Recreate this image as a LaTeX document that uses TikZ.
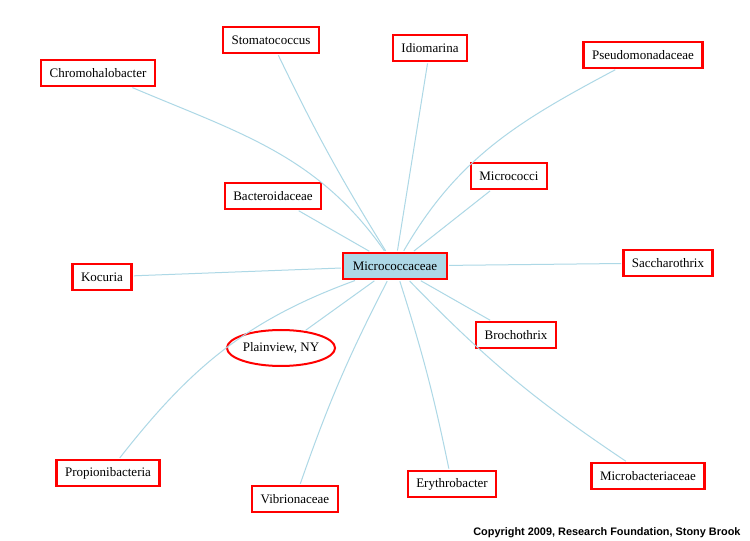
\documentclass[tikz,border=0pt]{standalone}
\usepackage{fontspec}
\setmainfont{Liberation Serif}
\setsansfont{Liberation Sans}
\usetikzlibrary{shapes.geometric}
\definecolor{lightblue}{HTML}{ADD8E6}
\definecolor{boxred}{HTML}{FF0000}

\begin{document}
\begin{tikzpicture}[x=1pt,y=1pt,
    taxon/.style={draw=boxred,line width=2.3pt,fill=white,inner xsep=8.5pt,
      minimum height=26pt,font=\fontsize{13}{15}\selectfont},
    hub/.style={taxon,fill=lightblue,inner xsep=9.5pt},
    place/.style={ellipse,draw=boxred,line width=2pt,fill=white,inner sep=0pt,
      minimum width=106pt,minimum height=36pt,font=\fontsize{13}{15}\selectfont},
    link/.style={draw=lightblue,line width=1pt,shorten <=1.2pt,shorten >=1.2pt}]
  \path[use as bounding box,fill=white] (0,0) rectangle (750,541);
  \node[hub] (micrococcaceae) at (395,275) {Micrococcaceae};
  \path (271,501) node[taxon] (stomatococcus) {Stomatococcus}
        (98,468) node[taxon] (chromohalobacter) {Chromohalobacter}
        (430,493) node[taxon] (idiomarina) {Idiomarina}
        (643,486) node[taxon] (pseudomonadaceae) {Pseudomonadaceae}
        (509,365) node[taxon] (micrococci) {Micrococci}
        (273,345) node[taxon] (bacteroidaceae) {Bacteroidaceae}
        (102,264) node[taxon] (kocuria) {Kocuria}
        (668,278) node[taxon] (saccharothrix) {Saccharothrix}
        (516,206) node[taxon] (brochothrix) {Brochothrix}
        (108,68) node[taxon] (propionibacteria) {Propionibacteria}
        (295,42) node[taxon] (vibrionaceae) {Vibrionaceae}
        (452,57) node[taxon] (erythrobacter) {Erythrobacter}
        (648,65) node[taxon] (microbacteriaceae) {Microbacteriaceae};
  \node[place] (plainview) at (281,193) {Plainview, NY};
  % spokes to the hub
  \draw[link] (chromohalobacter) to[out=-23,in=125] (micrococcaceae);
  \draw[link] (stomatococcus) to[bend right=3] (micrococcaceae);
  \draw[link] (pseudomonadaceae) to[out=208,in=60] (micrococcaceae);
  \draw[link] (propionibacteria) to[out=52,in=-160] (micrococcaceae);
  \draw[link] (vibrionaceae) to[bend left=4] (micrococcaceae);
  \draw[link] (erythrobacter) to[bend right=3] (micrococcaceae);
  \draw[link] (microbacteriaceae) to[bend left=6] (micrococcaceae);
  \foreach \n in {idiomarina,micrococci,bacteroidaceae,kocuria,saccharothrix,
                  brochothrix,plainview}
    \draw[link] (\n) -- (micrococcaceae);
  \node[anchor=base east,font=\sffamily\bfseries\fontsize{10.9}{12}\selectfont]
    (copyright) at (744,5.5) {Copyright 2009, Research Foundation, Stony Brook};
\end{tikzpicture}
\end{document}
